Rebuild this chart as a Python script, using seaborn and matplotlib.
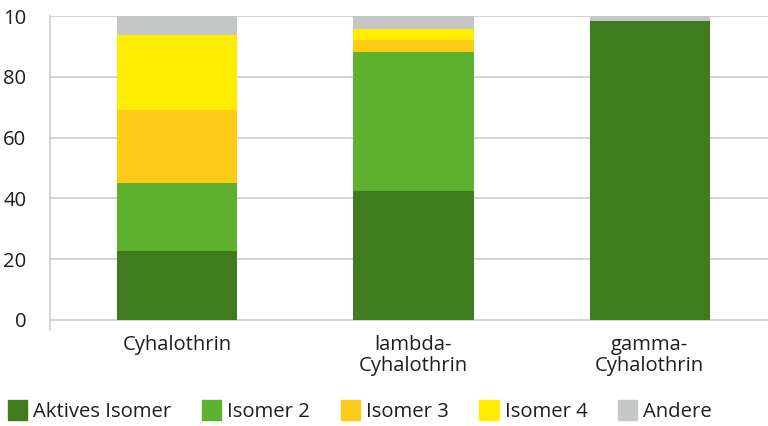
import matplotlib
matplotlib.use("Agg")
import matplotlib.pyplot as plt
import matplotlib.patches as mpatches
import seaborn as sns
import numpy as np
import pandas as pd

categories = ["Cyhalothrin", "lambda-\nCyhalothrin", "gamma-\nCyhalothrin"]
series_names = ["Aktives Isomer", "Isomer 2", "Isomer 3", "Isomer 4", "Andere"]
aktives = [22.6, 42.4, 98.4]
isomer2 = [22.5, 45.8, 0.0]
isomer3 = [24.0, 3.9, 0.0]
isomer4 = [24.6, 3.6, 0.0]
andere = [6.3, 4.3, 1.6]
colors = ["#417b20", "#5db12f", "#fdcb18", "#ffec00", "#c5c6c6"]
ytick_values = [0, 20, 40, 60, 80, 100]
ytick_labels = ["0", "20", "40", "60", "80", "10"]

sns.set_style("white")
plt.rcParams["font.family"] = ["Open Sans", "DejaVu Sans"]
text_color = "#1e1e1e"
grid_color = "#cccccc"
fs = 14.6

values = np.array([aktives, isomer2, isomer3, isomer4, andere])
cumulative = np.cumsum(values, axis=0)

df = pd.DataFrame({"Kategorie": categories})
for name, col in zip(series_names, cumulative):
    df[name] = col

fig = plt.figure(figsize=(7.68, 4.26), dpi=100)
ax = fig.add_axes([50 / 768, 96 / 426, 718 / 768, 314 / 426])

# draw from the top of the stack downwards so lower segments cover upper ones
for name, color in reversed(list(zip(series_names, colors))):
    sns.barplot(
        data=df,
        x="Kategorie",
        y=name,
        color=color,
        width=0.51,
        saturation=1,
        linewidth=0,
        ax=ax,
        zorder=3
    )

ax.set_xlim(-0.537, 2.5)
ax.set_ylim(-3.3, 100)
ax.set_yticks(ytick_values)
ax.set_yticklabels(ytick_labels)
ax.set_xlabel("")
ax.set_ylabel("")

for y in ytick_values:
    ax.axhline(y, color=grid_color, lw=1.2, zorder=1)

for side in ["top", "right", "bottom"]:
    ax.spines[side].set_visible(False)
ax.spines["left"].set_color(grid_color)
ax.spines["left"].set_linewidth(1.2)
ax.spines["left"].set_zorder(2)

ax.tick_params(axis="y", length=8, width=1.2, color=grid_color,
               pad=9, labelsize=fs, labelcolor=text_color)
ax.tick_params(axis="x", length=0, pad=3.5, labelsize=fs, labelcolor=text_color)
for lbl in ax.get_xticklabels():
    lbl.set_linespacing(1.1)

handles = [mpatches.Patch(color=c, label=n) for n, c in zip(series_names, colors)]
fig.legend(
    handles=handles,
    loc="lower left",
    bbox_to_anchor=(0.0, -0.01),
    ncol=5,
    frameon=False,
    fontsize=fs,
    labelcolor=text_color,
    handlelength=0.95,
    handleheight=1.15,
    handletextpad=0.3,
    columnspacing=1.5,
    borderaxespad=0.2,
    borderpad=0.2
)

fig.savefig("out.png", dpi=100)
